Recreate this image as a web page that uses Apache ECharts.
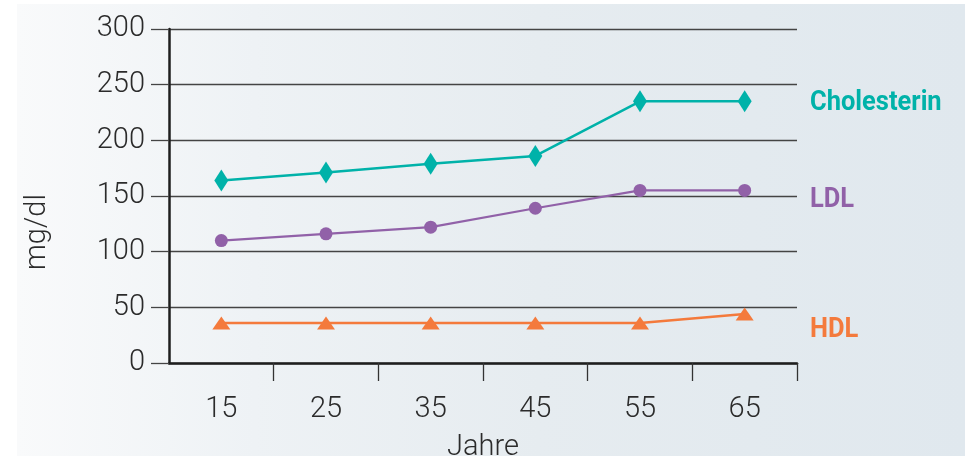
<!DOCTYPE html>
<html>
<head>
<meta charset="utf-8">
<script src="https://cdn.jsdelivr.net/npm/echarts@6/dist/echarts.min.js"></script>
<style>
html,body{margin:0;padding:0;background:#fff;width:965px;height:456px;overflow:hidden;}
#bg{position:absolute;left:17px;top:4px;right:0;bottom:0;background:linear-gradient(to right,#f9fafb 0%,#eef2f5 25%,#e6ecf0 55%,#e0e8ee 100%);}
#c{position:absolute;left:0;top:0;width:965px;height:456px;}
</style>
</head>
<body>
<div id="bg"></div>
<div id="c"></div>
<script>
const categories = ['15', '25', '35', '45', '55', '65'];
const cholesterin = [164, 171, 179, 186, 235, 235];
const ldl = [110, 116, 122, 139, 155, 155];
const hdl = [36, 36, 36, 36, 36, 44];
const seriesNames = ['Cholesterin', 'LDL', 'HDL'];
const xName = 'Jahre';
const yName = 'mg/dl';

const TEAL = '#00b2a9', PURPLE = '#9161a8', ORANGE = '#f47a3c';
const FONT = 'Roboto, "Liberation Sans", sans-serif';
const BOLDFONT = 'Roboto, "Liberation Sans", sans-serif';

function sideLabel(text, y, color) {
  return {type: 'text', x: 810, y: y, scaleX: 0.91,
    style: {text: text, fill: color, font: 'bold 28px ' + BOLDFONT, align: 'left', verticalAlign: 'middle'}};
}

const chart = echarts.init(document.getElementById('c'), null, {renderer: 'canvas'});
chart.setOption({
  backgroundColor: 'transparent',
  animation: false,
  grid: {left: 169, right: 168, top: 29, bottom: 93, outerBoundsMode: 'none', containLabel: false},
  xAxis: {
    type: 'category',
    data: categories,
    boundaryGap: true,
    name: xName,
    nameLocation: 'middle',
    nameGap: 70,
    nameTextStyle: {fontFamily: FONT, fontWeight: 300, fontSize: 29, color: '#2b2b2b'},
    axisLine: {lineStyle: {color: '#1e1e1e', width: 2.5}},
    axisTick: {show: true, length: 18, lineStyle: {color: '#333', width: 1.3},
      interval: function (index) { return index !== 0; }},
    axisLabel: {margin: 32, fontFamily: FONT, fontWeight: 300, fontSize: 29, color: '#2b2b2b'},
    splitLine: {show: false}
  },
  yAxis: {
    type: 'value',
    min: 0, max: 300, interval: 50,
    axisLine: {show: true, lineStyle: {color: '#1e1e1e', width: 2.5}},
    axisTick: {show: true, length: 18, lineStyle: {color: '#444', width: 1.3}},
    axisLabel: {margin: 24, fontFamily: FONT, fontWeight: 300, fontSize: 29, color: '#2b2b2b'},
    splitLine: {show: true, lineStyle: {color: '#444', width: 1.3}}
  },
  graphic: [
    {type: 'text', x: 38, y: 232, rotation: Math.PI / 2,
      style: {text: yName, fill: '#2b2b2b', font: '300 29px ' + FONT, align: 'center', verticalAlign: 'middle'}},
    sideLabel(seriesNames[0], 103, TEAL),
    sideLabel(seriesNames[1], 200, PURPLE),
    sideLabel(seriesNames[2], 330, ORANGE)
  ],
  series: [
    {name: seriesNames[0], type: 'line', data: cholesterin, symbol: 'diamond', symbolSize: [14, 22],
      showAllSymbol: true, lineStyle: {color: TEAL, width: 2.5}, itemStyle: {color: TEAL}},
    {name: seriesNames[1], type: 'line', data: ldl, symbol: 'circle', symbolSize: 13,
      showAllSymbol: true, lineStyle: {color: PURPLE, width: 2.2}, itemStyle: {color: PURPLE}},
    {name: seriesNames[2], type: 'line', data: hdl, symbol: 'triangle', symbolSize: [18, 13],
      showAllSymbol: true, lineStyle: {color: ORANGE, width: 2.5}, itemStyle: {color: ORANGE}}
  ]
});
</script>
</body>
</html>
